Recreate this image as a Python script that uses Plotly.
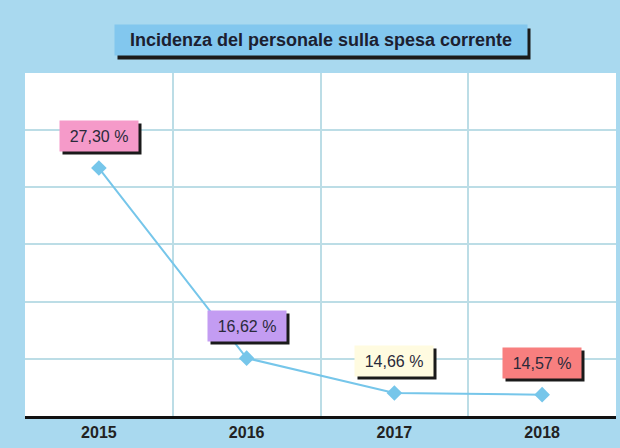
import plotly.graph_objects as go

# Incidenza della spesa di personale sulla spesa corrente, per anno
anni = ["2015", "2016", "2017", "2018"]
incidenza = [27.30, 16.62, 14.66, 14.57]
etichette = ["27,30 %", "16,62 %", "14,66 %", "14,57 %"]
colori_etichette = ["#f59ac9", "#c39cf2", "#fffbe0", "#f87f7f"]

titolo = "Incidenza del personale sulla spesa corrente"

sfondo = "#a9d9ef"
colore_linea = "#76c6ea"
colore_griglia = "#bcdde6"
FONT = "Liberation Sans, Arial"

fig = go.Figure()
fig.add_trace(go.Scatter(
    x=list(range(len(anni))), y=incidenza, mode="lines+markers",
    line=dict(color=colore_linea, width=2),
    marker=dict(symbol="diamond", size=12, color=colore_linea),
    hoverinfo="skip", showlegend=False,
))

# value labels, each with a dark drop shadow box behind it
for i, (val, testo, col) in enumerate(zip(incidenza, etichette, colori_etichette)):
    box = dict(x=i, y=val, xref="x", yref="y", showarrow=False,
               width=76, height=28)
    fig.add_annotation(text=" ", bgcolor="#1a1a1a", xshift=3, yshift=29, **box)
    fig.add_annotation(text=testo, bgcolor=col, yshift=32,
                       font=dict(family=FONT, size=16, color="#2a2a3a"), **box)

# title box with shadow
tbox = dict(xref="paper", yref="paper", x=0.501, y=1, yanchor="middle",
            showarrow=False, width=410, height=28)
fig.add_annotation(text=" ", bgcolor="#1a1a1a", xshift=3, yshift=29, **tbox)
fig.add_annotation(text="<b>" + titolo + "</b>", bgcolor="#82c7ee", yshift=33,
                   font=dict(family=FONT, size=18, color="#1c2030"), **tbox)

fig.update_xaxes(
    tickmode="array", tickvals=list(range(len(anni))), ticktext=anni,
    showgrid=False, ticks="",
    minor=dict(tick0=0.5, dtick=1, showgrid=True, gridcolor=colore_griglia,
               gridwidth=2, ticks=""),
    showline=True, linecolor="#111111", linewidth=3,
    tickfont=dict(family=FONT, size=16, color="#222222", weight="bold"),
    range=[-0.5, 3.5], zeroline=False, fixedrange=True,
)
fig.update_yaxes(
    range=[13.37, 32.64], tick0=13.37, dtick=3.212,
    showticklabels=False, showgrid=True, gridcolor=colore_griglia, gridwidth=2,
    zeroline=False, showline=False, fixedrange=True,
)

fig.update_layout(
    width=620, height=448,
    margin=dict(l=25, r=4, t=73, b=32),
    paper_bgcolor=sfondo, plot_bgcolor="white",
)

fig.write_html("out.html", config={"displayModeBar": False})
